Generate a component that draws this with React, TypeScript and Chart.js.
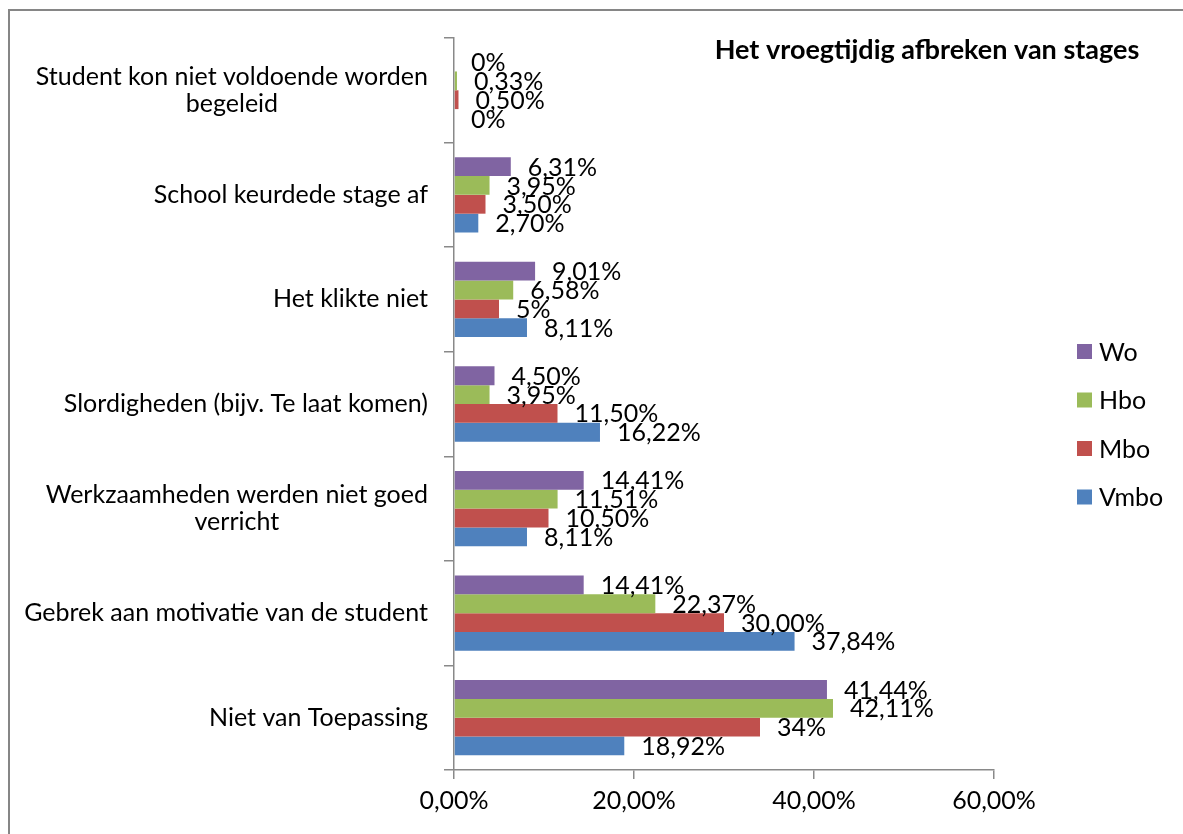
import React, { useEffect, useRef } from "react";
import { Chart, registerables } from "chart.js";

Chart.register(...registerables);

const categories: string[][] = [
  ["Student kon niet voldoende worden", "begeleid"],
  ["School keurdede stage af"],
  ["Het klikte niet"],
  ["Slordigheden (bijv. Te laat komen)"],
  ["Werkzaamheden werden niet goed", "verricht"],
  ["Gebrek aan motivatie van de student"],
  ["Niet van Toepassing"],
];
const seriesNames = ["Wo", "Hbo", "Mbo", "Vmbo"];
const woValues = [0, 6.31, 9.01, 4.5, 14.41, 14.41, 41.44];
const hboValues = [0.33, 3.95, 6.58, 3.95, 11.51, 22.37, 42.11];
const mboValues = [0.5, 3.5, 5, 11.5, 10.5, 30.0, 34];
const vmboValues = [0, 2.7, 8.11, 16.22, 8.11, 37.84, 18.92];
const woLabels = ["0%", "6,31%", "9,01%", "4,50%", "14,41%", "14,41%", "41,44%"];
const hboLabels = ["0,33%", "3,95%", "6,58%", "3,95%", "11,51%", "22,37%", "42,11%"];
const mboLabels = ["0,50%", "3,50%", "5%", "11,50%", "10,50%", "30,00%", "34%"];
const vmboLabels = ["0%", "2,70%", "8,11%", "16,22%", "8,11%", "37,84%", "18,92%"];
const xMin = 0;
const xMax = 60;
const xStep = 20;
const chartTitle = "Het vroegtijdig afbreken van stages";

const colors = ["#8064A2", "#9BBB59", "#C0504D", "#4F81BD"];
const FONT = "Lato, 'Noto Sans', sans-serif";
const FSIZE = 25;
const AXIS = "#898989";

const allValues = [woValues, hboValues, mboValues, vmboValues];
const allLabels = [woLabels, hboLabels, mboLabels, vmboLabels];

const overlayPlugin = {
  id: "overlay",
  afterDraw(chart: any) {
    const { ctx, chartArea } = chart;
    ctx.save();
    const yScale = chart.scales.y;
    ctx.font = `${FSIZE}px ${FONT}`;
    ctx.fillStyle = "#000";
    ctx.textBaseline = "middle";
    ctx.textAlign = "center";
    const lineH = 27;
    categories.forEach((lines, i) => {
      const yc = yScale.getPixelForTick(i);
      const w = Math.max(...lines.map((l) => ctx.measureText(l).width));
      const right = chartArea.left - 26;
      const cx = right - w / 2;
      const y0 = yc - ((lines.length - 1) * lineH) / 2;
      lines.forEach((l, j) => ctx.fillText(l, cx, y0 + j * lineH));
    });
    ctx.textAlign = "left";
    allLabels.forEach((labels, di) => {
      const meta = chart.getDatasetMeta(di);
      meta.data.forEach((el: any, i: number) => {
        ctx.fillText(labels[i], el.x + 17, el.y + 1);
      });
    });
    ctx.font = `bold 27px ${FONT}`;
    ctx.textAlign = "center";
    ctx.textBaseline = "alphabetic";
    ctx.fillText(chartTitle, chartArea.right - 67, 59);
    ctx.font = `${FSIZE}px ${FONT}`;
    ctx.textAlign = "left";
    ctx.textBaseline = "middle";
    const spacing = 48.5;
    const lx = chartArea.right + 83;
    const startY = 351.5;
    seriesNames.forEach((name, i) => {
      const y = startY + i * spacing;
      ctx.fillStyle = colors[i];
      ctx.fillRect(lx, y - 7.5, 15, 15);
      ctx.fillStyle = "#000";
      ctx.fillText(name, lx + 22, y + 1);
    });
    ctx.restore();
  },
};

export default function App() {
  const ref = useRef<HTMLCanvasElement>(null);
  useEffect(() => {
    if (!ref.current) return;
    const chart = new Chart(ref.current, {
      type: "bar",
      data: {
        labels: categories,
        datasets: seriesNames.map((name, i) => ({
          label: name,
          data: allValues[i],
          backgroundColor: colors[i],
          borderWidth: 0,
          categoryPercentage: 0.72,
          barPercentage: 1,
        })),
      },
      options: {
        indexAxis: "y",
        responsive: false,
        animation: false,
        layout: { padding: { top: 38, right: 189, left: 0, bottom: 0 } },
        plugins: {
          legend: { display: false },
          title: { display: false },
          tooltip: { enabled: false },
        },
        scales: {
          x: {
            min: xMin,
            max: xMax,
            ticks: {
              stepSize: xStep,
              color: "#000",
              font: { family: FONT, size: FSIZE },
              padding: 7,
              callback: (v: any) => `${Number(v).toFixed(2).replace(".", ",")}%`,
            },
            grid: {
              drawOnChartArea: false,
              drawTicks: true,
              tickLength: 9,
              color: AXIS,
              lineWidth: 1.5,
            },
            border: { display: true, color: AXIS, width: 1.5 },
            afterFit: (s: any) => {
              s.height = 64;
            },
          },
          y: {
            ticks: { display: false },
            grid: {
              drawOnChartArea: false,
              drawTicks: true,
              tickLength: 10,
              color: AXIS,
              lineWidth: 1.5,
            },
            border: { display: true, color: AXIS, width: 1.5 },
            afterFit: (s: any) => {
              s.width = 454;
            },
          },
        },
      },
      plugins: [overlayPlugin],
    });
    return () => chart.destroy();
  }, []);
  return (
    <>
      <div
        style={{
          position: "fixed",
          left: 8,
          top: 9,
          width: 1200,
          height: 900,
          border: "2px solid #868686",
          boxSizing: "border-box",
        }}
      />
      <canvas
        ref={ref}
        width={1183}
        height={834}
        style={{ position: "fixed", left: 0, top: 0, width: 1183, height: 834 }}
      />
    </>
  );
}
